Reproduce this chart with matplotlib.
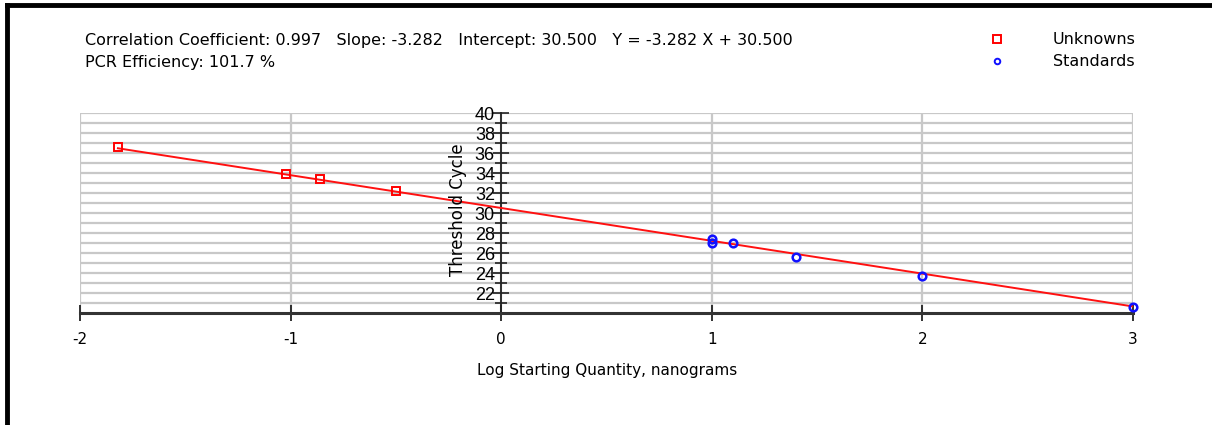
import matplotlib.pyplot as plt
from matplotlib.lines import Line2D
import numpy as np

# standard curve data (log quantity vs threshold cycle)
unk_x = [-1.82, -1.02, -0.86, -0.50]
unk_y = [36.6, 33.9, 33.4, 32.2]
std_x = [1.00, 1.00, 1.10, 1.40, 2.00, 3.00]
std_y = [27.4, 27.0, 27.0, 25.6, 23.7, 20.6]

slope = -3.282
intercept = 30.500
corr = 0.997
efficiency = 101.7

x_ticks = [-2, -1, 0, 1, 2, 3]
y_ticks = [22, 24, 26, 28, 30, 32, 34, 36, 38, 40]

plt.rcParams["font.family"] = ["DejaVu Sans"]

fig = plt.figure(figsize=(12.12, 4.25), dpi=100)
ax = fig.add_axes([80 / 1212, 1 - 313 / 425, 1053 / 1212, 200 / 425])

ax.set_xlim(-2, 3)
ax.set_ylim(20, 40)

# grid: every cycle horizontally, every log unit vertically
for yv in range(21, 41):
    ax.axhline(yv, color="#c8c8c8", linewidth=1.6, zorder=0)
for xv in x_ticks:
    ax.axvline(xv, color="#c8c8c8", linewidth=1.6, zorder=0)

for s in ["top", "right"]:
    ax.spines[s].set_visible(False)
ax.spines["left"].set_position(("data", 0))
ax.spines["left"].set_color("#222222")
ax.spines["left"].set_linewidth(1.3)
ax.spines["left"].set_zorder(1)
ax.spines["bottom"].set_color("#333333")
ax.spines["bottom"].set_linewidth(2.2)

ax.set_xticks(x_ticks)
ax.set_xticklabels([str(v) for v in x_ticks])
ax.set_yticks(y_ticks)
ax.set_yticklabels([str(v) for v in y_ticks], family="Liberation Sans")
ax.set_yticks(range(21, 40, 2), minor=True)
ax.tick_params(axis="x", direction="inout", length=12, width=1.3,
               color="#222222", labelsize=11, pad=8)
ax.tick_params(axis="y", which="major", direction="inout", length=11,
               width=1.2, color="#222222", labelsize=13, pad=-1)
ax.tick_params(axis="y", which="minor", direction="inout", length=9,
               width=1.2, color="#222222")

# fitted line over the data range
all_x = unk_x + std_x
xs = np.array([min(all_x), max(all_x)])
ax.plot(xs, slope * xs + intercept, color="#ff1010", linewidth=1.4, zorder=3)

ax.plot(unk_x, unk_y, linestyle="none", marker="s", markersize=6,
        markerfacecolor="none", markeredgecolor="#ff0000",
        markeredgewidth=1.4, zorder=4, clip_on=False)
ax.plot(std_x, std_y, linestyle="none", marker="o", markersize=5.5,
        markerfacecolor="none", markeredgecolor="#1010ff",
        markeredgewidth=1.8, zorder=4, clip_on=False)

fig.text(458 / 1212, 1 - 210 / 425, "Threshold Cycle", rotation=90,
         ha="center", va="center", fontsize=12)
fig.text(607 / 1212, 1 - 370 / 425, "Log Starting Quantity, nanograms",
         ha="center", va="center", fontsize=11)

# regression summary
fig.text(85 / 1212, 1 - 40 / 425,
         f"Correlation Coefficient: {corr:.3f}   Slope: {slope:.3f}   "
         f"Intercept: {intercept:.3f}   Y = {slope:.3f} X + {intercept:.3f}",
         ha="left", va="center", fontsize=11.5)
fig.text(85 / 1212, 1 - 62 / 425, f"PCR Efficiency: {efficiency} %",
         ha="left", va="center", fontsize=11.5)

# legend drawn by hand in the top right
fig.add_artist(Line2D([997 / 1212], [1 - 39 / 425], marker="s", markersize=6,
                      markerfacecolor="none", markeredgecolor="#ff0000",
                      markeredgewidth=1.4, linestyle="none"))
fig.add_artist(Line2D([997 / 1212], [1 - 61 / 425], marker="o", markersize=4,
                      markerfacecolor="none", markeredgecolor="#1010ff",
                      markeredgewidth=1.4, linestyle="none"))
fig.text(1053 / 1212, 1 - 39 / 425, "Unknowns", ha="left", va="center",
         fontsize=11.5)
fig.text(1053 / 1212, 1 - 61 / 425, "Standards", ha="left", va="center",
         fontsize=11.5)

# window frame on left and top
fig.add_artist(Line2D([7 / 1212, 7 / 1212], [0, 1 - 5 / 425], color="black",
                      linewidth=3.5))
fig.add_artist(Line2D([7 / 1212, 1], [1 - 5 / 425, 1 - 5 / 425],
                      color="black", linewidth=3.5))

fig.savefig("out.png", dpi=100)
